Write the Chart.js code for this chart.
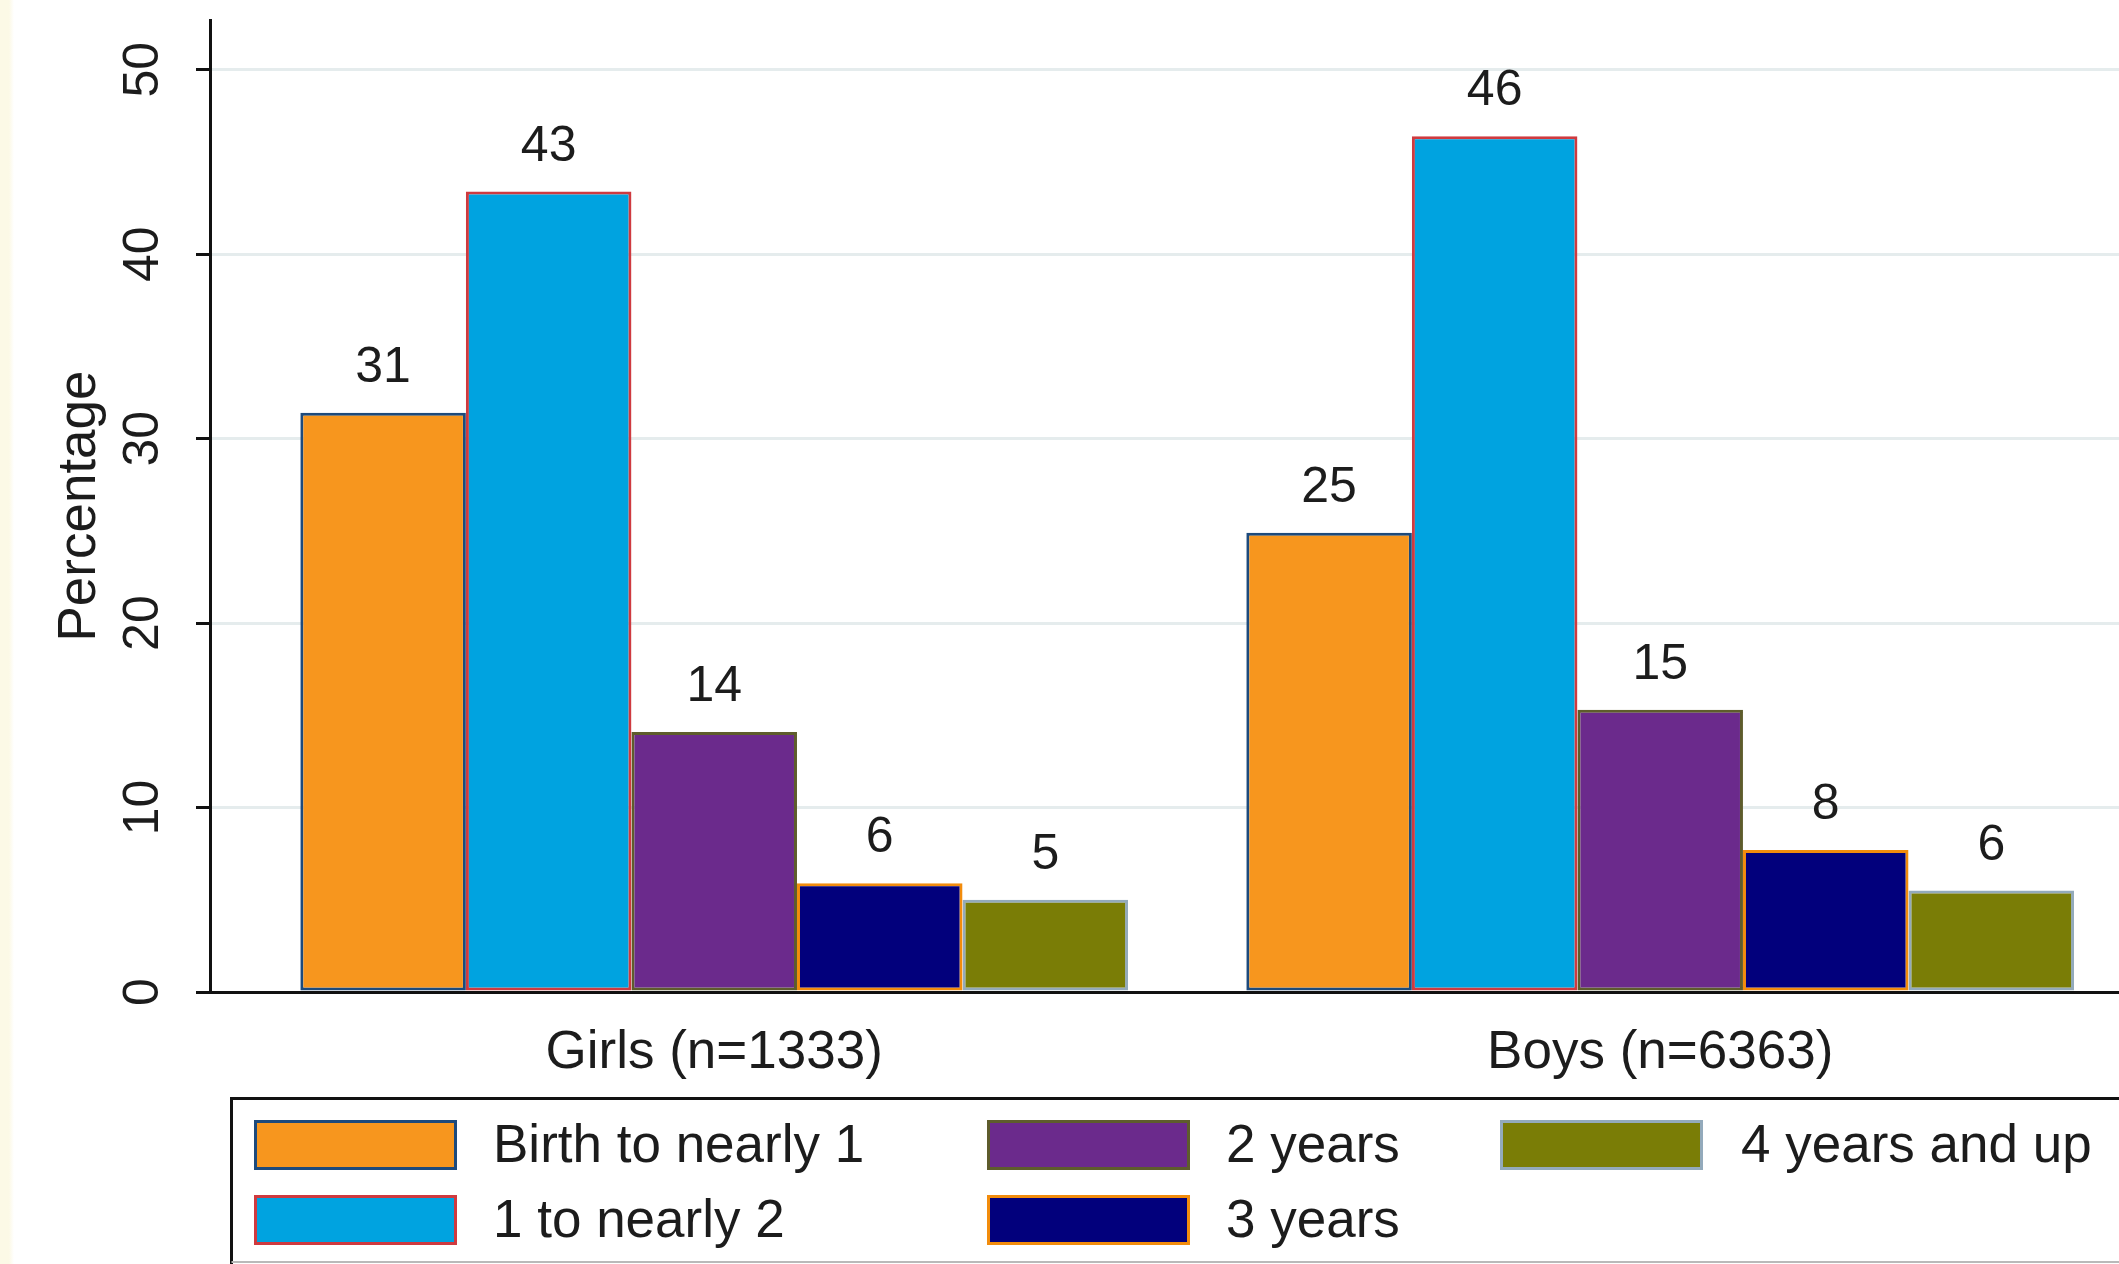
<!DOCTYPE html>
<html><head><meta charset="utf-8">
<script src="https://cdn.jsdelivr.net/npm/chart.js@4.4.1/dist/chart.umd.min.js"></script>
<style>
html,body{margin:0;padding:0;background:#fff;}
#wrap{width:2119px;height:1264px;position:relative;background:linear-gradient(to right,#fcf9e6 0,#fcf9e6 9px,#ffffff 14px);}
canvas{display:block}
</style>
</head><body><div id="wrap"><canvas id="c" width="2119" height="1264"></canvas></div>
<script>
// ---- data ----
const categories = ['Girls (n=1333)', 'Boys (n=6363)'];
const seriesNames = ['Birth to nearly 1', '1 to nearly 2', '2 years', '3 years', '4 years and up'];
const birthToNearly1 = [31.4, 24.9];
const oneToNearly2 = [43.4, 46.4];
const twoYears = [14.1, 15.3];
const threeYears = [5.9, 7.7];
const fourYearsAndUp = [5.0, 5.5];
const yTicks = [0, 10, 20, 30, 40, 50];
const yTitle = 'Percentage';

// ---- styles ----
const FONT = "'Liberation Sans', Arial, Helvetica, sans-serif";
const TEXT = '#1c1c1c';
const fills = ['#f7961e', '#00a3e0', '#6b2a8c', '#02007c', '#7a7d06'];
const borders = ['#1d4a7c', '#cf3a3f', '#5e5c2c', '#f28c0c', '#93aabb'];
const seriesValues = [birthToNearly1, oneToNearly2, twoYears, threeYears, fourYearsAndUp];

const datasets = seriesValues.map((vals, k) => ({
  label: seriesNames[k],
  data: vals.map((v, i) => ({ x: i, y: v })),
  backgroundColor: fills[k],
  borderColor: borders[k],
  borderWidth: 3,
  borderSkipped: false
}));

const valueLabels = {
  id: 'valueLabels',
  afterDatasetsDraw(chart) {
    const ctx = chart.ctx;
    ctx.save();
    ctx.font = '50px ' + FONT;
    ctx.fillStyle = TEXT;
    ctx.textAlign = 'center';
    ctx.textBaseline = 'alphabetic';
    chart.data.datasets.forEach((ds, di) => {
      chart.getDatasetMeta(di).data.forEach((bar, i) => {
        ctx.fillText(String(Math.round(ds.data[i].y)), bar.x, bar.y - 31);
      });
    });
    ctx.restore();
  }
};

const boxLegend = {
  id: 'boxLegend',
  afterDraw(chart) {
    const ctx = chart.ctx;
    ctx.save();
    ctx.strokeStyle = '#111';
    ctx.lineWidth = 3;
    ctx.beginPath();
    ctx.moveTo(2125, 1098.5);
    ctx.lineTo(231.5, 1098.5);
    ctx.lineTo(231.5, 1264);
    ctx.stroke();
    ctx.strokeStyle = '#b9b9b9';
    ctx.lineWidth = 2;
    ctx.beginPath();
    ctx.moveTo(231.5, 1262);
    ctx.lineTo(2125, 1262);
    ctx.stroke();
    const swX = [254, 987, 1500];
    const txX = [493, 1226, 1741];
    const rowY = [1145, 1220];
    const swW = 203, swH = 50;
    ctx.font = '53px ' + FONT;
    ctx.textBaseline = 'middle';
    ctx.textAlign = 'left';
    chart.data.datasets.forEach((ds, k) => {
      const col = Math.floor(k / 2), row = k % 2;
      const x = swX[col], y = rowY[row] - swH / 2;
      ctx.fillStyle = ds.backgroundColor;
      ctx.fillRect(x, y, swW, swH);
      ctx.strokeStyle = ds.borderColor;
      ctx.lineWidth = 3;
      ctx.strokeRect(x + 1.5, y + 1.5, swW - 3, swH - 3);
      ctx.fillStyle = TEXT;
      ctx.fillText(ds.label, txX[col], rowY[row] + 2);
    });
    ctx.restore();
  }
};

function noPad(s) {
  s.paddingTop = 0; s.paddingBottom = 0; s.paddingLeft = 0; s.paddingRight = 0;
}

new Chart(document.getElementById('c'), {
  type: 'bar',
  data: { datasets },
  plugins: [valueLabels, boxLegend],
  options: {
    responsive: false,
    animation: false,
    devicePixelRatio: 1,
    layout: { padding: { top: 20, right: 0, bottom: 0, left: 0 } },
    plugins: { legend: { display: false }, tooltip: { enabled: false } },
    datasets: { bar: { categoryPercentage: 0.875, barPercentage: 1 } },
    scales: {
      x: {
        type: 'linear',
        position: 'bottom',
        offset: false,
        min: -0.533,
        max: 1.485,
        grid: { display: false, offset: false },
        border: { display: true, color: '#111', width: 3 },
        afterBuildTicks: s => { s.ticks = categories.map((c, i) => ({ value: i })); },
        afterFit: s => { s.height = 272; noPad(s); },
        ticks: {
          autoSkip: false,
          maxRotation: 0,
          minRotation: 0,
          padding: 22,
          color: TEXT,
          font: { family: FONT, size: 53 },
          callback: (v, i) => categories[i]
        }
      },
      y: {
        type: 'linear',
        position: 'left',
        min: 0,
        max: 52.7,
        afterBuildTicks: s => { s.ticks = yTicks.map(v => ({ value: v })); },
        afterFit: s => { s.width = 210; noPad(s); },
        grid: { color: '#e5eced', lineWidth: 3, tickColor: '#111', tickWidth: 3, tickLength: 14, drawTicks: true },
        border: { display: true, color: '#111', width: 3 },
        ticks: {
          minRotation: 90,
          maxRotation: 90,
          crossAlign: 'center',
          padding: 24,
          color: TEXT,
          font: { family: FONT, size: 50 }
        },
        title: {
          display: true,
          text: yTitle,
          color: TEXT,
          font: { family: FONT, size: 53 },
          padding: { top: 49, bottom: 0 }
        }
      }
    }
  }
});
</script>
</body></html>
